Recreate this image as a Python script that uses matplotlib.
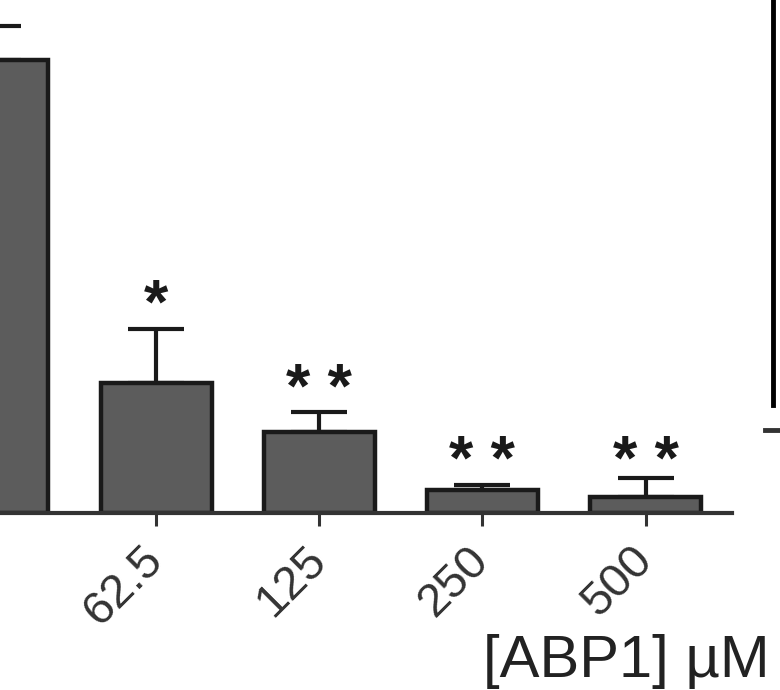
import numpy as np
import matplotlib
matplotlib.use("Agg")
import matplotlib.pyplot as plt

plt.rcParams['font.family'] = ['Liberation Sans', 'DejaVu Sans']

# data (first bar is the control, cut off on the left)
doses = ['0', '62.5', '125', '250', '500']
means = [100.0, 28.8, 18.0, 5.1, 3.5]
sems = [7.7, 11.8, 4.4, 1.1, 4.3]
stars = ['', '*', '* *', '* *', '* *']
star_y = [0, 42.0, 23.4, 7.5, 7.5]

fig = plt.figure(figsize=(7.8, 6.9), dpi=100)
# axes run past the left edge of the figure, like the cropped original
ax = fig.add_axes([-0.1344, 0.2565, 1.0728, 0.82])

x = np.arange(len(doses))
ax.bar(x, means, width=0.68, color='#5c5c5c', edgecolor='#1a1a1a',
       linewidth=3.2, zorder=2)
ax.errorbar(x, means, yerr=[np.zeros(len(sems)), sems], fmt='none',
            ecolor='#1a1a1a', elinewidth=3, capsize=20, capthick=3, zorder=1)

for xi, s, sy in zip(x, stars, star_y):
    if s:
        ax.text(xi, sy, s, ha='center', va='baseline', fontsize=45,
                fontweight='bold', color='#1a1a1a')

ax.set_xlim(-0.6, 4.53)
ax.set_ylim(0, 125)
for side in ['top', 'right', 'left']:
    ax.spines[side].set_visible(False)
ax.spines['bottom'].set_linewidth(3)
ax.spines['bottom'].set_color('#333333')
ax.set_yticks([])
ax.set_xticks(x)
# the control's label lies outside the cropped view
ax.set_xticklabels([''] + doses[1:], rotation=45, ha='right', va='center',
                   rotation_mode='anchor', fontsize=34, color='#333333')
ax.tick_params(axis='x', length=9, width=2.2, color='#333333', pad=20)

ax.set_xlabel('[ABP1] µM', fontsize=43, ha='left', va='baseline',
              color='#222222')
ax.xaxis.set_label_coords(0.7028, -0.290)

# edge of the neighbouring panel on the right
ax2 = fig.add_axes([765 / 780, (690 - 430) / 690, 0.2, 1.0])
ax2.set_xlim(0, 1)
ax2.set_ylim(0, 1)
for side in ['top', 'right']:
    ax2.spines[side].set_visible(False)
ax2.spines['left'].set_position(('axes', 0.05))
ax2.spines['left'].set_bounds(25 / 690, 1)
ax2.spines['left'].set_linewidth(3.5)
ax2.spines['bottom'].set_linewidth(3.5)
ax2.spines['bottom'].set_color('#333333')
ax2.set_xticks([])
ax2.set_yticks([])
ax2.patch.set_visible(False)

fig.savefig('out.png', dpi=100)
